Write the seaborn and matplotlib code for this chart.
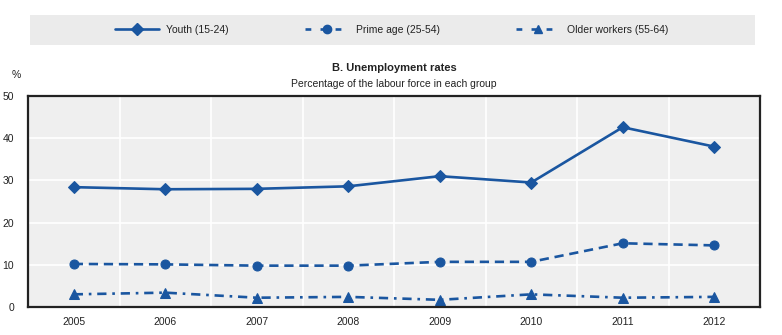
import matplotlib
matplotlib.use("Agg")
import matplotlib.pyplot as plt
import seaborn as sns
import pandas as pd
import numpy as np
from matplotlib.patches import Rectangle
from matplotlib.lines import Line2D

years = ["2005", "2006", "2007", "2008", "2009", "2010", "2011", "2012"]
youth = [28.4, 27.9, 28.0, 28.6, 31.0, 29.5, 42.6, 38.0]
prime = [10.2, 10.1, 9.8, 9.8, 10.7, 10.7, 15.1, 14.6]
older = [3.0, 3.4, 2.2, 2.4, 1.7, 3.0, 2.2, 2.4]
labels = ["Youth (15-24)", "Prime age (25-54)", "Older workers (55-64)"]

BLUE = "#1a56a0"
sns.set_style("white")
plt.rcParams["font.family"] = ["Liberation Sans Narrow", "Liberation Sans", "DejaVu Sans"]

df = pd.DataFrame({
    "x": list(range(len(years))) * 3,
    "value": youth + prime + older,
    "group": [labels[0]] * 8 + [labels[1]] * 8 + [labels[2]] * 8,
})

fig = plt.figure(figsize=(7.82, 3.35), dpi=100)
ax = fig.add_axes([28 / 782, 1 - 307 / 335, (760 - 28) / 782, (307 - 96) / 335])
ax.set_facecolor("#efefef")

markers = {labels[0]: "D", labels[1]: "o", labels[2]: "^"}
dashes = {labels[0]: "", labels[1]: (3.5, 2.2), labels[2]: (3.5, 2.2, 1, 2.2)}
sns.lineplot(data=df, x="x", y="value", style="group", markers=markers, dashes=dashes,
             color=BLUE, linewidth=1.9, markersize=6.5, markeredgecolor=BLUE,
             legend=False, ax=ax)

ax.set_xlim(-0.5, 7.5)
ax.set_ylim(0, 50)
ax.set_yticks([0, 10, 20, 30, 40, 50])
ax.set_xticks(range(len(years)))
ax.set_xticklabels(years)
ax.set_xticks(np.arange(0.5, 7.5, 1), minor=True)
ax.tick_params(axis="x", which="major", length=0, pad=7, labelsize=7.5, colors="#222222")
ax.tick_params(axis="x", which="minor", length=4, direction="in", color="#222222")
ax.tick_params(axis="y", length=0, pad=10, labelsize=7.5, colors="#222222")
ax.grid(False)
for yv in [10, 20, 30, 40]:
    ax.axhline(yv, color="white", lw=1.2, zorder=0.5)
for xv in np.arange(0.5, 7.5, 1):
    ax.axvline(xv, color="white", lw=1.2, zorder=0.5)
for s in ax.spines.values():
    s.set_visible(True)
    s.set_color("#222222")
    s.set_linewidth(1.6)
ax.set_xlabel("")
ax.set_ylabel("")

fig.text(12 / 782, 1 - 75 / 335, "%", fontsize=7.5, color="#222222", ha="left", va="center")
fig.text(394 / 782, 1 - 68 / 335, "B. Unemployment rates", fontsize=8, fontweight="bold",
         ha="center", va="center", color="#222222")
fig.text(394 / 782, 1 - 84 / 335, "Percentage of the labour force in each group", fontsize=7.5,
         ha="center", va="center", color="#222222")

# legend box
fig.patches.append(Rectangle((30 / 782, 1 - 45 / 335), (755 - 30) / 782, 30 / 335,
                             transform=fig.transFigure, facecolor="#ebebeb", edgecolor="none", zorder=0))
handles = [
    Line2D([], [], color=BLUE, lw=1.9, marker="D", markersize=6, linestyle="-"),
    Line2D([], [], color=BLUE, lw=1.9, marker="o", markersize=6, linestyle=(0, (2.2, 3.5))),
    Line2D([], [], color=BLUE, lw=1.9, marker="^", markersize=6, linestyle=(0, (2.2, 3.5))),
]
fig.legend(handles, labels, loc="center", bbox_to_anchor=(392 / 782, 1 - 30 / 335), ncol=3,
           frameon=False, fontsize=7.5, handlelength=4.2, columnspacing=7.3, handletextpad=0.7,
           labelcolor="#222222")

fig.savefig("out.png", dpi=100)
